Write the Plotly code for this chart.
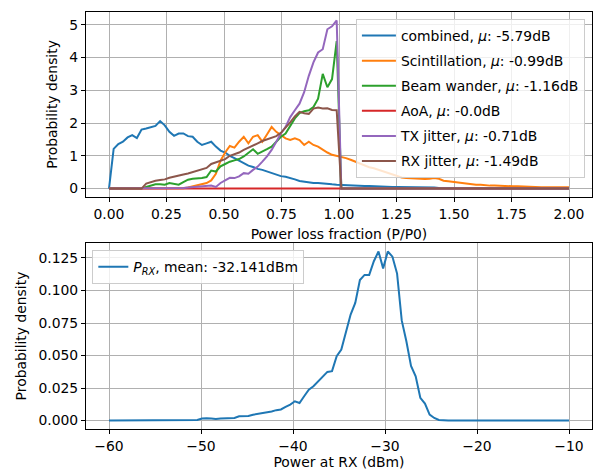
import numpy as np
import plotly.graph_objects as go

# ---------------- data ----------------
ratio = np.linspace(0, 2, 100)          # power loss fraction grid (P/P0)
p_rx_dbm = np.linspace(-60, -10, 100)   # received power grid (dBm)

combined = [0, 1.21, 1.36, 1.43, 1.56, 1.63, 1.54, 1.80, 1.83, 1.88,
            1.91, 2.06, 1.93, 1.73, 1.61, 1.68, 1.68, 1.60, 1.58, 1.43,
            1.33, 1.38, 1.43, 1.28, 1.16, 1.10, 1.00, 0.93, 0.85, 0.78,
            0.70, 0.66, 0.60, 0.57, 0.52, 0.47, 0.42, 0.38, 0.36, 0.33,
            0.28, 0.23, 0.21, 0.18, 0.17, 0.17, 0.15, 0.14, 0.13, 0.12,
            0.11, 0.10, 0.10, 0.09, 0.09, 0.08, 0.08, 0.07, 0.07, 0.06,
            0.06, 0.05, 0.05, 0.05, 0.04, 0.04, 0.04, 0.03, 0.03, 0.03,
            0.03, 0.02, 0.02, 0.02, 0.02, 0.02, 0.02, 0.01, 0.01, 0.01,
            0.01, 0.01, 0.01, 0.01, 0.01, 0.01, 0.005, 0.005, 0.005, 0.005,
            0.005, 0.005, 0, 0, 0, 0, 0, 0, 0, 0]

scintillation = [0, 0, 0, 0, 0, 0, 0, 0, 0, 0,
                 0, 0, 0, 0, 0, 0, 0.01, 0.03, 0.06, 0.09,
                 0.12, 0.17, 0.25, 0.45, 0.85, 1.10, 1.30, 1.25, 1.43, 1.58,
                 1.38, 1.58, 1.63, 1.43, 1.65, 1.88, 1.73, 1.63, 1.53, 1.48,
                 1.53, 1.48, 1.33, 1.43, 1.33, 1.28, 1.18, 1.10, 1.03, 1.00,
                 0.96, 0.93, 0.88, 0.82, 0.75, 0.70, 0.65, 0.62, 0.57, 0.52,
                 0.47, 0.42, 0.37, 0.34, 0.32, 0.31, 0.30, 0.29, 0.29, 0.30,
                 0.32, 0.30, 0.24, 0.22, 0.20, 0.18, 0.17, 0.15, 0.13, 0.12,
                 0.12, 0.10, 0.09, 0.09, 0.08, 0.08, 0.07, 0.07, 0.07, 0.06,
                 0.06, 0.05, 0.05, 0.04, 0.04, 0.04, 0.04, 0.04, 0.04, 0.04]

beam_wander = [0, 0, 0, 0, 0, 0, 0, 0, 0.05, 0.10,
               0.13, 0.13, 0.12, 0.17, 0.14, 0.12, 0.20, 0.27, 0.30, 0.30,
               0.32, 0.35, 0.55, 0.52, 0.68, 0.75, 0.82, 0.86, 0.90, 0.98,
               1.08, 1.20, 1.06, 1.12, 1.20, 1.28, 1.43, 1.58, 1.68, 1.93,
               2.14, 2.30, 2.36, 2.39, 2.49, 2.74, 3.50, 3.09, 3.34, 4.50] + [0] * 50

aoa = [0] * 100

tx_jitter = [0, 0, 0, 0, 0, 0, 0, 0, 0, 0,
             0, 0, 0, 0, 0, 0.01, 0.02, 0.03, 0.04, 0.06,
             0.07, 0.08, 0.09, 0.05, 0.17, 0.25, 0.33, 0.32, 0.37, 0.47,
             0.45, 0.57, 0.67, 0.82, 0.98, 1.18, 1.43, 1.68, 1.88, 2.18,
             2.39, 2.59, 2.94, 3.44, 3.85, 4.15, 4.25, 4.86, 4.95, 5.13] + [0] * 50

rx_jitter = [0, 0, 0, 0, 0, 0, 0, 0, 0.15, 0.20,
             0.24, 0.26, 0.28, 0.33, 0.37, 0.40, 0.43, 0.46, 0.50, 0.55,
             0.60, 0.63, 0.75, 0.80, 0.85, 0.90, 1.00, 1.05, 1.10, 1.18,
             1.24, 1.30, 1.38, 1.45, 1.50, 1.53, 1.60, 1.70, 1.85, 2.02,
             2.20, 2.34, 2.30, 2.28, 2.44, 2.47, 2.44, 2.45, 2.40, 2.39] + [0] * 50

series_names = ["combined, <i>μ</i>: -5.79dB",
                "Scintillation, <i>μ</i>: -0.99dB",
                "Beam wander, <i>μ</i>: -1.16dB",
                "AoA, <i>μ</i>: -0.0dB",
                "TX jitter, <i>μ</i>: -0.71dB",
                "RX jitter, <i>μ</i>: -1.49dB"]

p_rx_density = [0, 0, 0, 0, 0, 0, 0, 0, 0.0003, 0.0003,
                0, 0, 0, 0, 0, 0, 0, 0, 0.0003, 0.0005,
                0.0015, 0.0018, 0.0015, 0.0012, 0.0015, 0.0015, 0.0015, 0.0020, 0.0033, 0.0033,
                0.0035, 0.0045, 0.0050, 0.0057, 0.0062, 0.0070, 0.0080, 0.0085, 0.0105, 0.0123,
                0.0148, 0.0135, 0.0187, 0.0238, 0.0264, 0.0300, 0.0340, 0.0374, 0.0380, 0.0495,
                0.0546, 0.0687, 0.0815, 0.0905, 0.1080, 0.1120, 0.1120, 0.1225, 0.1300, 0.1170,
                0.1300, 0.1260, 0.1130, 0.0770, 0.0610, 0.0420, 0.0340, 0.0175, 0.0130, 0.0046,
                0.0020, 0.0005] + [0] * 28

p_rx_label = "<i>P</i><sub><i>RX</i></sub>, mean: -32.141dBm"

colors = ["#1f77b4", "#ff7f0e", "#2ca02c", "#d62728", "#9467bd", "#8c564b"]

# ---------------- figure ----------------
FONT = "DejaVu Sans"
FS = 13.9
fig = go.Figure()

top_series = [combined, scintillation, beam_wander, aoa, tx_jitter, rx_jitter]
for k, (ys, name) in enumerate(zip(top_series, series_names)):
    fig.add_trace(go.Scatter(x=ratio, y=ys, mode="lines", name=name,
                             line=dict(color=colors[k], width=2),
                             xaxis="x", yaxis="y", legend="legend",
                             legendgroup=f"g{k}"))

fig.add_trace(go.Scatter(x=p_rx_dbm, y=p_rx_density, mode="lines", name=p_rx_label,
                         line=dict(color=colors[0], width=2),
                         xaxis="x2", yaxis="y2", legend="legend2"))

axis_common = dict(showline=True, mirror=True, linecolor="black", linewidth=1.1,
                   ticks="outside", ticklen=4, tickwidth=1.1, tickcolor="black",
                   showgrid=True, gridcolor="#b0b0b0", gridwidth=1, zeroline=False,
                   automargin=False,
                   tickfont=dict(family=FONT, size=FS, color="black"))

ymax_top = 5.13
ymax_bot = 0.130
fig.update_layout(
    width=594, height=473,
    paper_bgcolor="white", plot_bgcolor="white",
    margin=dict(l=86, r=2, t=12, b=44),
    font=dict(family=FONT, size=FS, color="black"),
    xaxis=dict(domain=[0, 1], anchor="y", range=[-0.1, 2.1],
               tickvals=[0, 0.25, 0.5, 0.75, 1.0, 1.25, 1.5, 1.75, 2.0],
               tickformat=".2f",
               title=dict(text="Power loss fraction (P/P0)", standoff=8,
                          font=dict(family=FONT, size=FS)),
               **axis_common),
    yaxis=dict(domain=[0.5564, 1], anchor="x",
               range=[-0.05 * ymax_top, 1.05 * ymax_top],
               tickvals=[0, 1, 2, 3, 4, 5],
               title=dict(text="Probability density", standoff=8,
                          font=dict(family=FONT, size=FS)),
               **axis_common),
    xaxis2=dict(domain=[0, 1], anchor="y2", range=[-62.5, -7.5],
                tickvals=[-60, -50, -40, -30, -20, -10],
                title=dict(text="Power at RX (dBm)", standoff=4,
                           font=dict(family=FONT, size=FS)),
                **axis_common),
    yaxis2=dict(domain=[0, 0.446], anchor="x2",
                range=[-0.05 * ymax_bot, 1.05 * ymax_bot],
                tickvals=[0, 0.025, 0.05, 0.075, 0.1, 0.125],
                tickformat=".3f",
                title=dict(text="Probability density", standoff=8,
                           font=dict(family=FONT, size=FS)),
                **axis_common),
    legend=dict(x=0.986, y=0.983, xanchor="right", yanchor="top",
                bgcolor="rgba(255,255,255,0.8)", bordercolor="#cccccc", borderwidth=1,
                font=dict(family=FONT, size=FS), tracegroupgap=4,
                itemwidth=34),
    legend2=dict(x=0.0125, y=0.429, xanchor="left", yanchor="top",
                 bgcolor="rgba(255,255,255,0.8)", bordercolor="#cccccc", borderwidth=1,
                 font=dict(family=FONT, size=FS), itemwidth=30),
    showlegend=True,
)

fig.write_html("out.html",
               config={"displayModeBar": False},
               post_script="document.body.style.margin='0';document.body.style.padding='0';")
